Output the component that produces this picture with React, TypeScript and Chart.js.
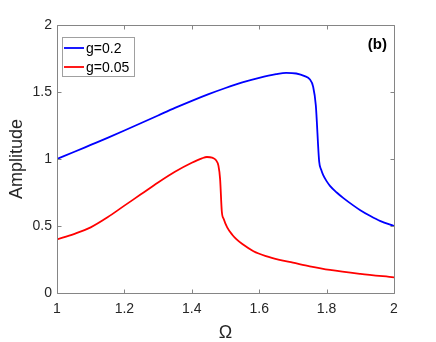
import React, { useEffect, useRef } from "react";
import { Chart, registerables } from "chart.js";

Chart.register(...registerables);

// g = 0.2 (blue)
const omegaBlue = [1.0, 1.05, 1.1, 1.15, 1.2, 1.25, 1.3, 1.35, 1.4, 1.45, 1.5, 1.55, 1.6, 1.65, 1.68, 1.71, 1.735, 1.75, 1.76, 1.768, 1.778, 1.784, 1.79, 1.8, 1.81, 1.83, 1.85, 1.88, 1.9, 1.93, 1.96, 2.0];
const ampBlue = [1.0, 1.052, 1.105, 1.158, 1.213, 1.269, 1.325, 1.381, 1.434, 1.484, 1.53, 1.572, 1.606, 1.633, 1.643, 1.638, 1.618, 1.595, 1.54, 1.4, 0.98, 0.92, 0.88, 0.835, 0.8, 0.75, 0.708, 0.652, 0.618, 0.574, 0.536, 0.5];

// g = 0.05 (red)
const omegaRed = [1.0, 1.05, 1.1, 1.15, 1.2, 1.25, 1.3, 1.35, 1.4, 1.43, 1.445, 1.46, 1.472, 1.479, 1.484, 1.489, 1.495, 1.505, 1.52, 1.533, 1.55, 1.583, 1.62, 1.66, 1.7, 1.75, 1.81, 1.9, 2.0];
const ampRed = [0.4, 0.44, 0.49, 0.565, 0.652, 0.738, 0.825, 0.905, 0.972, 1.005, 1.015, 1.01, 0.99, 0.95, 0.85, 0.61, 0.55, 0.49, 0.435, 0.4, 0.365, 0.312, 0.275, 0.247, 0.226, 0.199, 0.172, 0.143, 0.117];

const xTicks = [1, 1.2, 1.4, 1.6, 1.8, 2];
const yTicks = [0, 0.5, 1, 1.5, 2];
const seriesLabels = ["g=0.2", "g=0.05"];
const seriesColors = ["#0000ff", "#ff0000"];
const panelLabel = "(b)";
const xTitle = "Ω";
const yTitle = "Amplitude";

const AXIS = "#858585";
const TEXT = "#262626";
const FONT = "'Liberation Sans', Arial, Helvetica, sans-serif";

const boxPlugin = {
  id: "matlabBox",
  afterDatasetsDraw(chart: any) {
    const { ctx, chartArea: a, scales } = chart;
    const xs = scales.x;
    const ys = scales.y;
    const L = Math.round(a.left) + 0.5;
    const R = Math.round(a.right) + 0.5;
    const T = Math.round(a.top) + 0.5;
    const B = Math.round(a.bottom) + 0.5;
    ctx.save();
    ctx.strokeStyle = AXIS;
    ctx.lineWidth = 1;
    ctx.beginPath();
    ctx.rect(L, T, R - L, B - T);
    ctx.stroke();
    const tl = 4;
    ctx.beginPath();
    for (const v of xTicks) {
      const px = Math.round(xs.getPixelForValue(v)) + 0.5;
      ctx.moveTo(px, B);
      ctx.lineTo(px, B - tl);
      ctx.moveTo(px, T);
      ctx.lineTo(px, T + tl);
    }
    for (const v of yTicks) {
      const py = Math.round(ys.getPixelForValue(v)) + 0.5;
      ctx.moveTo(L, py);
      ctx.lineTo(L + tl, py);
      ctx.moveTo(R, py);
      ctx.lineTo(R - tl, py);
    }
    ctx.stroke();

    // legend
    const lx = 62, ly = 37, lw = 72, lh = 39;
    ctx.fillStyle = "#ffffff";
    ctx.fillRect(lx, ly, lw, lh);
    ctx.strokeStyle = "#a0a0a0";
    ctx.strokeRect(lx + 0.5, ly + 0.5, lw, lh);
    ctx.font = `14px ${FONT}`;
    ctx.textBaseline = "middle";
    ctx.textAlign = "left";
    const rows = [48, 67];
    seriesLabels.forEach((lab, i) => {
      const y = rows[i];
      ctx.strokeStyle = seriesColors[i];
      ctx.lineWidth = 1.8;
      ctx.beginPath();
      ctx.moveTo(64, y);
      ctx.lineTo(84, y);
      ctx.stroke();
      ctx.fillStyle = "#000000";
      ctx.fillText(lab, 86, y + 1);
    });

    // panel label
    ctx.font = `bold 15px ${FONT}`;
    ctx.textAlign = "right";
    ctx.fillStyle = "#000000";
    ctx.fillText(panelLabel, 387, 45);
    ctx.restore();
  },
};

export default function App() {
  const ref = useRef<HTMLCanvasElement | null>(null);
  useEffect(() => {
    document.body.style.margin = "0";
    const canvas = ref.current;
    if (!canvas) return;
    const chart = new Chart(canvas, {
      type: "line",
      data: {
        datasets: [
          {
            label: seriesLabels[0],
            data: omegaBlue.map((x, i) => ({ x, y: ampBlue[i] })),
            borderColor: seriesColors[0],
            borderWidth: 1.8,
            pointRadius: 0,
            cubicInterpolationMode: "monotone",
            fill: false,
          },
          {
            label: seriesLabels[1],
            data: omegaRed.map((x, i) => ({ x, y: ampRed[i] })),
            borderColor: seriesColors[1],
            borderWidth: 1.8,
            pointRadius: 0,
            cubicInterpolationMode: "monotone",
            fill: false,
          },
        ],
      },
      options: {
        responsive: false,
        animation: false,
        layout: { padding: { top: 25, right: 42, left: 0, bottom: 0 } },
        plugins: { legend: { display: false }, tooltip: { enabled: false } },
        scales: {
          x: {
            type: "linear",
            min: 1,
            max: 2,
            afterBuildTicks: (s: any) => {
              s.ticks = xTicks.map((v) => ({ value: v }));
            },
            afterFit: (s: any) => {
              s.height = 49;
            },
            grid: { display: false, drawTicks: false },
            border: { display: false },
            ticks: {
              padding: 8,
              color: TEXT,
              font: { family: FONT, size: 14 },
              maxRotation: 0,
              autoSkip: false,
              callback: (v: any) => String(Number(Number(v).toFixed(2))),
            },
            title: {
              display: true,
              text: xTitle,
              color: TEXT,
              font: { family: FONT, size: 18 },
              padding: { top: 0, bottom: -2 },
            },
          },
          y: {
            type: "linear",
            min: 0,
            max: 2,
            afterBuildTicks: (s: any) => {
              s.ticks = yTicks.map((v) => ({ value: v }));
            },
            afterFit: (s: any) => {
              s.width = 57;
            },
            grid: { display: false, drawTicks: false },
            border: { display: false },
            ticks: {
              padding: 5,
              color: TEXT,
              font: { family: FONT, size: 14 },
              autoSkip: false,
              callback: (v: any) => String(Number(Number(v).toFixed(2))),
            },
            title: {
              display: true,
              text: yTitle,
              color: TEXT,
              font: { family: FONT, size: 18 },
              padding: { top: 6, bottom: 0 },
            },
          },
        },
      },
      plugins: [boxPlugin],
    } as any);
    return () => chart.destroy();
  }, []);
  return <canvas ref={ref} width={436} height={342} style={{ display: "block" }} />;
}
